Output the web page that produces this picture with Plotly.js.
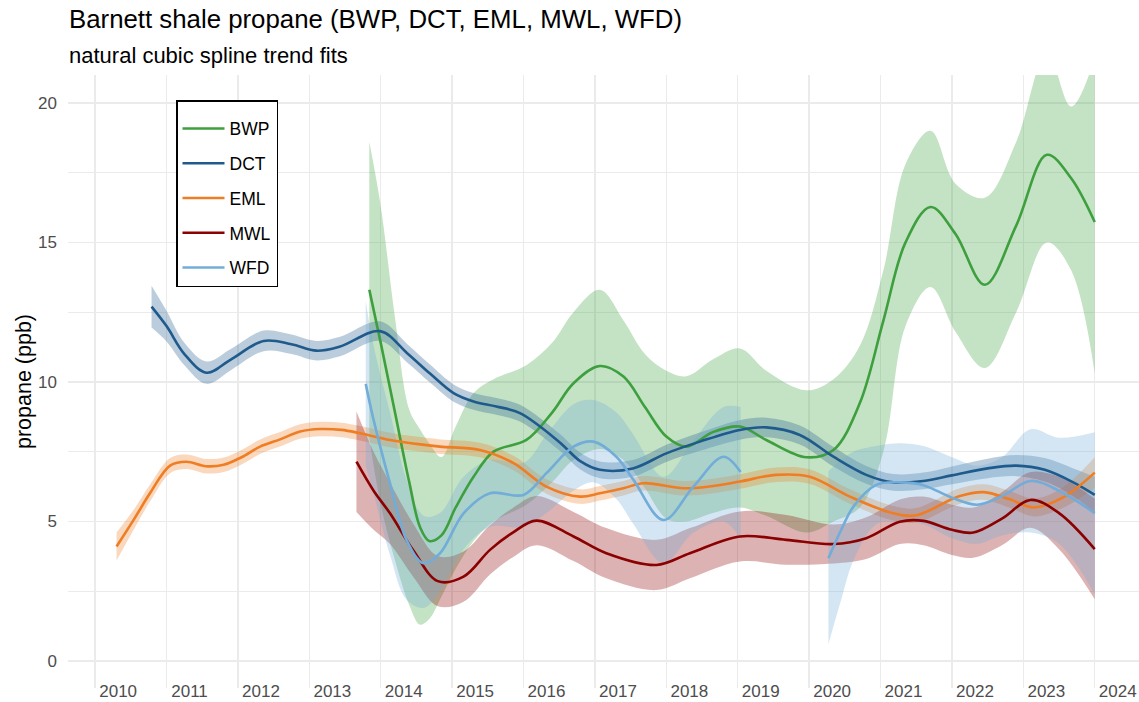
<!DOCTYPE html>
<html><head><meta charset="utf-8">
<script src="https://cdn.plot.ly/plotly-3.0.1.min.js"></script>
<style>html,body{margin:0;padding:0;background:#fff}#chart{width:1139px;height:702px}</style>
</head><body><div id="chart"></div>
<script>
// ---- data ----
const siteNames = ['BWP', 'DCT', 'EML', 'MWL', 'WFD'];
const siteColors = ['#3d9f3d', '#1f5a8c', '#ef7d23', '#8b0000', '#72acd8'];
const yearTicks = [2010, 2011, 2012, 2013, 2014, 2015, 2016, 2017, 2018, 2019, 2020, 2021, 2022, 2023, 2024];
const ppbTicks = [0, 5, 10, 15, 20];

const bwpYear  = [2013.84, 2014.0, 2014.2, 2014.4, 2014.55, 2014.68, 2014.85, 2015.05, 2015.3, 2015.58, 2016.04, 2016.4, 2016.7, 2017.07, 2017.4, 2017.7, 2018.0, 2018.28, 2018.65, 2019.03, 2019.4, 2019.96, 2020.34, 2020.71, 2021.04, 2021.35, 2021.7, 2022.05, 2022.46, 2022.9, 2023.33, 2023.67, 2024.0];
const bwpFit   = [13.3, 11.4, 8.9, 6.4, 4.8, 4.3, 4.5, 5.5, 6.6, 7.5, 7.92, 8.9, 9.95, 10.57, 10.19, 9.1, 8.04, 7.68, 8.2, 8.4, 7.92, 7.3, 7.56, 9.24, 12.2, 15.0, 16.27, 15.3, 13.48, 15.6, 18.14, 17.3, 15.73];
const bwpLower = [8.0, 5.6, 3.6, 2.0, 1.3, 1.5, 2.3, 3.3, 4.3, 5.0, 5.6, 6.4, 7.2, 7.6, 7.2, 6.2, 5.1, 5.0, 5.3, 5.5, 5.2, 4.6, 5.0, 5.5, 7.5, 12.0, 13.4, 11.8, 10.5, 12.5, 15.0, 14.0, 10.3];
const bwpUpper = [18.6, 16.3, 12.3, 9.0, 8.3, 7.8, 7.3, 8.4, 9.6, 10.1, 10.6, 11.4, 12.5, 13.3, 12.2, 11.0, 10.4, 10.2, 10.8, 11.2, 10.4, 9.7, 10.1, 11.3, 14.0, 17.8, 19.0, 17.1, 16.6, 18.6, 21.8, 19.87, 21.6];

const dctYear  = [2010.79, 2011.0, 2011.25, 2011.56, 2011.9, 2012.36, 2012.75, 2013.1, 2013.43, 2013.99, 2014.37, 2014.69, 2015.02, 2015.3, 2015.62, 2015.95, 2016.5, 2016.8, 2017.07, 2017.53, 2018.0, 2018.47, 2019.03, 2019.4, 2019.87, 2020.34, 2020.8, 2021.18, 2021.6, 2022.0, 2022.5, 2022.9, 2023.3, 2023.7, 2024.0];
const dctFit   = [12.7, 12.0, 11.0, 10.33, 10.8, 11.47, 11.35, 11.12, 11.27, 11.82, 11.03, 10.3, 9.6, 9.3, 9.12, 8.88, 7.85, 7.15, 6.85, 6.9, 7.44, 7.86, 8.28, 8.37, 8.1, 7.32, 6.67, 6.4, 6.45, 6.65, 6.9, 7.0, 6.85, 6.4, 5.95];
const dctLower = [11.95, 11.45, 10.6, 9.93, 10.42, 11.1, 11.0, 10.77, 10.92, 11.47, 10.7, 9.98, 9.29, 9.0, 8.82, 8.58, 7.55, 6.85, 6.55, 6.6, 7.13, 7.53, 7.93, 8.02, 7.76, 6.97, 6.35, 6.1, 6.15, 6.33, 6.55, 6.62, 6.43, 5.9, 5.3];
const dctUpper = [13.45, 12.55, 11.4, 10.73, 11.18, 11.84, 11.7, 11.47, 11.62, 12.17, 11.36, 10.62, 9.91, 9.6, 9.42, 9.18, 8.15, 7.45, 7.15, 7.2, 7.75, 8.19, 8.63, 8.72, 8.44, 7.67, 6.99, 6.7, 6.75, 6.97, 7.25, 7.38, 7.27, 6.9, 6.6];

const emlYear  = [2010.3, 2010.55, 2010.77, 2011.05, 2011.28, 2011.55, 2011.8, 2012.05, 2012.31, 2012.6, 2012.87, 2013.15, 2013.45, 2013.71, 2014.13, 2014.5, 2014.83, 2015.39, 2015.86, 2016.32, 2016.79, 2017.07, 2017.4, 2017.68, 2018.24, 2018.6, 2019.03, 2019.54, 2020.01, 2020.57, 2021.18, 2021.5, 2022.1, 2022.45, 2022.8, 2023.15, 2023.55, 2024.0];
const emlFit   = [4.1, 5.1, 6.02, 7.0, 7.14, 6.98, 7.03, 7.3, 7.68, 7.95, 8.22, 8.31, 8.28, 8.16, 7.92, 7.78, 7.68, 7.56, 7.09, 6.25, 5.89, 6.01, 6.19, 6.37, 6.19, 6.25, 6.43, 6.67, 6.6, 5.89, 5.29, 5.22, 5.9, 6.05, 5.8, 5.5, 5.85, 6.75];
const emlLower = [3.6, 4.75, 5.72, 6.73, 6.88, 6.72, 6.77, 7.04, 7.42, 7.69, 7.96, 8.05, 8.02, 7.9, 7.66, 7.52, 7.42, 7.3, 6.83, 5.99, 5.63, 5.75, 5.93, 6.11, 5.93, 5.99, 6.17, 6.41, 6.34, 5.63, 5.03, 4.96, 5.62, 5.77, 5.5, 5.18, 5.48, 6.2];
const emlUpper = [4.6, 5.45, 6.32, 7.27, 7.4, 7.24, 7.29, 7.56, 7.94, 8.21, 8.48, 8.57, 8.54, 8.42, 8.18, 8.04, 7.94, 7.82, 7.35, 6.51, 6.15, 6.27, 6.45, 6.63, 6.45, 6.51, 6.69, 6.93, 6.86, 6.15, 5.55, 5.48, 6.18, 6.33, 6.1, 5.82, 6.22, 7.3];

const mwlYear  = [2013.66, 2013.9, 2014.13, 2014.46, 2014.8, 2015.16, 2015.53, 2015.85, 2016.18, 2016.7, 2017.16, 2017.86, 2018.33, 2019.03, 2019.68, 2020.34, 2020.8, 2021.27, 2021.6, 2022.0, 2022.3, 2022.7, 2023.1, 2023.5, 2024.0];
const mwlFit   = [7.14, 6.1, 5.29, 3.95, 2.86, 3.02, 3.98, 4.6, 5.03, 4.46, 3.86, 3.44, 3.86, 4.46, 4.34, 4.19, 4.4, 4.99, 5.02, 4.7, 4.6, 5.1, 5.77, 5.3, 4.01];
const mwlLower = [5.34, 4.7, 4.19, 3.0, 1.96, 2.12, 3.1, 3.72, 4.15, 3.58, 2.96, 2.54, 2.96, 3.56, 3.45, 3.49, 3.65, 4.19, 4.15, 3.8, 3.7, 4.15, 4.77, 4.0, 2.21];
const mwlUpper = [8.94, 7.5, 6.39, 4.9, 3.76, 3.92, 4.86, 5.48, 5.91, 5.34, 4.76, 4.34, 4.76, 5.36, 5.23, 4.89, 5.15, 5.79, 5.89, 5.6, 5.5, 6.05, 6.77, 6.6, 5.81];

const wfdYearA  = [2013.79, 2013.9, 2014.13, 2014.36, 2014.6, 2014.83, 2015.16, 2015.53, 2016.0, 2016.32, 2016.7, 2016.98, 2017.3, 2017.54, 2017.96, 2018.38, 2018.8, 2019.04];
const wfdFitA   = [9.93, 8.64, 6.37, 4.34, 3.5, 3.86, 5.29, 6.01, 5.95, 6.73, 7.68, 7.86, 7.32, 6.49, 5.05, 6.25, 7.32, 6.77];
const wfdLowerA = [7.0, 6.0, 3.8, 2.2, 1.9, 2.5, 4.0, 4.8, 4.8, 5.3, 6.1, 6.4, 5.8, 4.9, 3.5, 4.6, 5.0, 4.4];
const wfdUpperA = [12.9, 11.3, 8.9, 6.5, 5.2, 5.3, 6.6, 7.2, 7.1, 8.1, 9.2, 9.35, 8.9, 8.1, 6.6, 7.9, 9.1, 9.1];
const wfdYearB  = [2020.27, 2020.45, 2020.62, 2020.94, 2021.27, 2021.6, 2022.0, 2022.35, 2022.7, 2023.1, 2023.5, 2024.0];
const wfdFitB   = [3.68, 4.7, 5.53, 6.31, 6.4, 6.3, 5.85, 5.6, 5.9, 6.45, 6.1, 5.3];
const wfdLowerB = [0.6, 2.2, 3.6, 4.9, 5.0, 4.9, 4.4, 4.2, 4.5, 4.6, 4.2, 2.4];
const wfdUpperB = [6.8, 7.2, 7.5, 7.7, 7.8, 7.7, 7.3, 7.0, 7.3, 8.3, 8.0, 8.2];

// ---- build traces ----
function rgba(hex, a) {
  const n = parseInt(hex.slice(1), 16);
  return 'rgba(' + ((n >> 16) & 255) + ',' + ((n >> 8) & 255) + ',' + (n & 255) + ',' + a + ')';
}
const series = [
  {segs: [[bwpYear, bwpFit, bwpLower, bwpUpper]]},
  {segs: [[dctYear, dctFit, dctLower, dctUpper]]},
  {segs: [[emlYear, emlFit, emlLower, emlUpper]]},
  {segs: [[mwlYear, mwlFit, mwlLower, mwlUpper]]},
  {segs: [[wfdYearA, wfdFitA, wfdLowerA, wfdUpperA], [wfdYearB, wfdFitB, wfdLowerB, wfdUpperB]]}
];
const ribbonTraces = [], lineTraces = [];
series.forEach((s, i) => {
  const col = siteColors[i];
  s.segs.forEach(seg => {
    ribbonTraces.push({x: seg[0], y: seg[2], type: 'scatter', mode: 'lines',
      line: {width: 0, shape: 'spline', smoothing: 1}, hoverinfo: 'skip', showlegend: false});
    ribbonTraces.push({x: seg[0], y: seg[3], type: 'scatter', mode: 'lines', fill: 'tonexty',
      fillcolor: rgba(col, 0.3), line: {width: 0, shape: 'spline', smoothing: 1}, hoverinfo: 'skip', showlegend: false});
  });
  let xs = [], ys = [];
  s.segs.forEach((seg, k) => {
    if (k > 0) { xs.push(null); ys.push(null); }
    xs = xs.concat(seg[0]); ys = ys.concat(seg[1]);
  });
  lineTraces.push({x: xs, y: ys, type: 'scatter', mode: 'lines', name: siteNames[i],
    legendgroup: siteNames[i], connectgaps: false,
    line: {color: col, width: 2.6, shape: 'spline', smoothing: 1}});
});

const fontFam = '"Liberation Sans", Arial, Helvetica, sans-serif';
const layout = {
  width: 1139, height: 702,
  margin: {l: 68, r: 0, t: 75, b: 14, pad: 0},
  paper_bgcolor: '#ffffff', plot_bgcolor: '#ffffff',
  font: {family: fontFam, color: '#000'},
  title: {
    text: 'Barnett shale propane (BWP, DCT, EML, MWL, WFD)',
    x: 69 / 1139, xref: 'container', xanchor: 'left',
    y: 1 - 10 / 702, yref: 'container', yanchor: 'top',
    font: {size: 25.8, color: '#000', family: fontFam}
  },
  annotations: [{
    text: 'natural cubic spline trend fits', showarrow: false,
    xref: 'paper', yref: 'paper', x: 0, y: (688 - 55) / 613, xanchor: 'left', yanchor: 'middle',
    xshift: -1, font: {size: 22, color: '#000', family: fontFam}
  }],
  xaxis: {
    range: [2009.62, 2024.62], tickvals: yearTicks, ticktext: yearTicks.map(String),
    showgrid: true, gridcolor: '#ebebeb', gridwidth: 1.5, zeroline: false, showline: false,
    ticks: '', tickfont: {size: 17, color: '#4d4d4d', family: fontFam},
    ticklabelshift: 23, ticklabelstandoff: -9
  },
  yaxis: {
    range: [-0.97, 21.0], tickvals: ppbTicks, ticktext: ppbTicks.map(String),
    showgrid: true, gridcolor: '#ebebeb', gridwidth: 1.5, zeroline: false, showline: false,
    minor: {tickvals: [2.5, 7.5, 12.5, 17.5], showgrid: true, gridcolor: '#ebebeb', gridwidth: 1.3},
    ticks: '', tickfont: {size: 17, color: '#4d4d4d', family: fontFam},
    ticklabelstandoff: 10,
    title: {text: 'propane (ppb)', font: {size: 21.5, color: '#000', family: fontFam}, standoff: 0}
  },
  showlegend: true,
  legend: {
    x: (176 - 68) / 1071, y: (688 - 100) / 613, xanchor: 'left', yanchor: 'top',
    bgcolor: '#ffffff', bordercolor: '#000000', borderwidth: 1.5,
    font: {size: 17.5, color: '#000', family: fontFam},
    title: {text: ' ', font: {size: 7}},
    tracegroupgap: 9, traceorder: 'grouped', itemwidth: 42
  },
  hovermode: false
};
Plotly.newPlot('chart', ribbonTraces.concat(lineTraces), layout, {displayModeBar: false, staticPlot: true});
</script></body></html>
